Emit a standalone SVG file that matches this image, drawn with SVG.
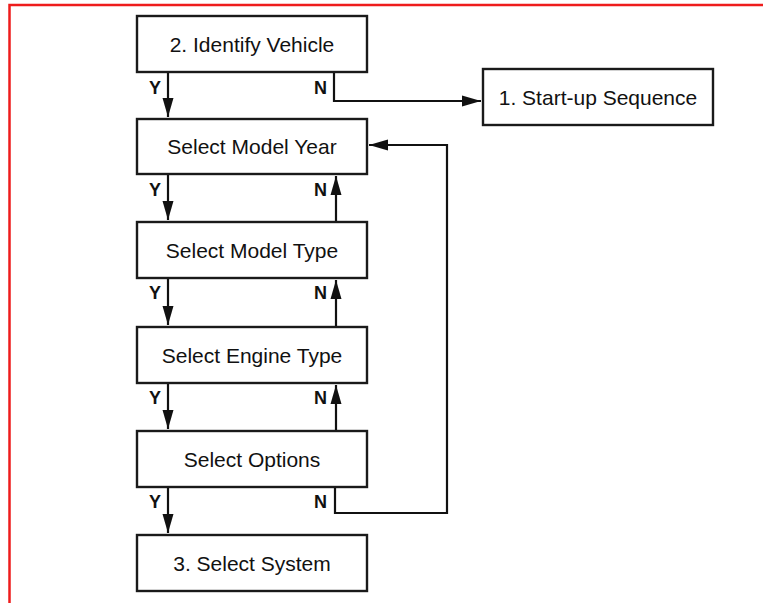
<svg xmlns="http://www.w3.org/2000/svg" width="763" height="603" viewBox="0 0 763 603">
<style>
.box{fill:#fff;stroke:#1a1a1a;stroke-width:2.4}
.lbl{font-family:"Liberation Sans",Arial,sans-serif;font-size:21px;fill:#111;text-anchor:middle}
.yn{font-family:"Liberation Sans",Arial,sans-serif;font-size:18px;font-weight:bold;fill:#111;text-anchor:end}
.ln{fill:none;stroke:#111;stroke-width:2.2}
</style>
<defs>
<marker id="ah" markerUnits="userSpaceOnUse" markerWidth="20" markerHeight="12" refX="19" refY="6" orient="auto">
<path d="M0,0.5 L19,6 L0,11.5 z" fill="#111"/>
</marker>
</defs>
<rect width="763" height="603" fill="#fff"/>
<path d="M9.5,603 V5 H763" fill="none" stroke="#ee1c1c" stroke-width="2.5"/>
<g id="n1"><rect class="box" x="137" y="16" width="230" height="56"/><text class="lbl" x="252" y="52">2. Identify Vehicle</text></g>
<g id="n0"><rect class="box" x="483" y="69" width="230" height="56"/><text class="lbl" x="598" y="105">1. Start-up Sequence</text></g>
<g id="n2"><rect class="box" x="137" y="119" width="230" height="55"/><text class="lbl" x="252" y="154">Select Model Year</text></g>
<g id="n3"><rect class="box" x="137" y="222" width="230" height="56"/><text class="lbl" x="252" y="258">Select Model Type</text></g>
<g id="n4"><rect class="box" x="137" y="327" width="230" height="56"/><text class="lbl" x="252" y="363">Select Engine Type</text></g>
<g id="n5"><rect class="box" x="137" y="431" width="230" height="56"/><text class="lbl" x="252" y="467">Select Options</text></g>
<g id="n6"><rect class="box" x="137" y="535" width="230" height="56"/><text class="lbl" x="252" y="571">3. Select System</text></g>
<g id="connectors">
<path class="ln" d="M168,73 V117" marker-end="url(#ah)"/>
<path class="ln" d="M334,73 V101 H481" marker-end="url(#ah)"/>
<path class="ln" d="M168,175 V220" marker-end="url(#ah)"/>
<path class="ln" d="M336,221 V176" marker-end="url(#ah)"/>
<path class="ln" d="M168,279 V325" marker-end="url(#ah)"/>
<path class="ln" d="M336,326 V280" marker-end="url(#ah)"/>
<path class="ln" d="M168,384 V429" marker-end="url(#ah)"/>
<path class="ln" d="M336,430 V385" marker-end="url(#ah)"/>
<path class="ln" d="M168,488 V533" marker-end="url(#ah)"/>
<path class="ln" d="M335,488 V513 H447 V145 H369" marker-end="url(#ah)"/>
</g>
<g id="labels">
<text class="yn" x="161" y="94">Y</text>
<text class="yn" x="327" y="94">N</text>
<text class="yn" x="161" y="196">Y</text>
<text class="yn" x="327" y="196">N</text>
<text class="yn" x="161" y="299">Y</text>
<text class="yn" x="327" y="299">N</text>
<text class="yn" x="161" y="404">Y</text>
<text class="yn" x="327" y="404">N</text>
<text class="yn" x="161" y="508">Y</text>
<text class="yn" x="327" y="508">N</text>
</g>
</svg>
